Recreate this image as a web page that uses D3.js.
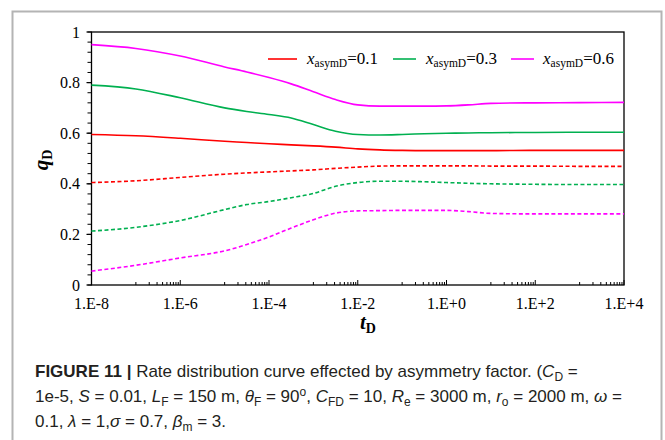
<!DOCTYPE html>
<html><head><meta charset="utf-8">
<script src="https://cdn.jsdelivr.net/npm/d3@7"></script>
<style>
html,body{margin:0;padding:0;background:#fff;}
svg{display:block;}
</style></head>
<body>
<svg id="chart" width="665" height="440"></svg>
<script>
// ---- data ----
const tD = [1e-8,1e-7,1e-6,1e-5,3.16e-5,1e-4,3.16e-4,1e-3,3.16e-3,1e-2,3.16e-2,1e-1,3.16e-1,1,3.16,10,100,1000,10000];
const xAsym = ["0.1","0.3","0.6"];
const colors = ["#ff0000","#00b050","#ff00ff"];
// solid (upper branch)
const solid01 = [0.595,0.590,0.580,0.568,0.563,0.558,0.554,0.550,0.545,0.538,0.534,0.532,0.531,0.531,0.531,0.531,0.532,0.532,0.532];
const solid03 = [0.790,0.775,0.740,0.700,0.686,0.674,0.660,0.634,0.608,0.595,0.593,0.595,0.598,0.600,0.601,0.602,0.603,0.604,0.604];
const solid06 = [0.950,0.935,0.905,0.862,0.842,0.820,0.795,0.764,0.733,0.712,0.707,0.707,0.707,0.708,0.712,0.718,0.720,0.721,0.722];
// dashed (lower branch)
const dash01 = [0.405,0.412,0.425,0.438,0.443,0.447,0.451,0.455,0.461,0.466,0.470,0.471,0.471,0.471,0.471,0.470,0.470,0.469,0.469];
const dash03 = [0.213,0.228,0.255,0.298,0.318,0.330,0.345,0.362,0.390,0.405,0.410,0.410,0.408,0.405,0.402,0.400,0.398,0.397,0.397];
const dash06 = [0.055,0.078,0.107,0.135,0.160,0.190,0.225,0.258,0.284,0.293,0.294,0.295,0.295,0.295,0.290,0.283,0.281,0.281,0.281];
const xTickValues = [1e-8,1e-6,1e-4,1e-2,1e0,1e2,1e4];
const xTickLabels = ["1.E-8","1.E-6","1.E-4","1.E-2","1.E+0","1.E+2","1.E+4"];
const yTickValues = [0,0.2,0.4,0.6,0.8,1];
const yTickLabels = ["0","0.2","0.4","0.6","0.8","1"];

// ---- layout ----
const svg = d3.select("#chart");
const L = 91.5, R = 624, T = 32, B = 285;
const x = d3.scaleLog().domain([1e-8,1e4]).range([L,R]);
const y = d3.scaleLinear().domain([0,1]).range([B,T]);
const serif = "'Liberation Serif','Times New Roman',serif";

// outer grey frame
svg.append("rect").attr("x",12.5).attr("y",11.5).attr("width",649).attr("height",440)
  .attr("fill","none").attr("stroke","#b4b4b4").attr("stroke-width",2);

// plot border
svg.append("rect").attr("x",L).attr("y",T).attr("width",R-L).attr("height",B-T)
  .attr("fill","none").attr("stroke","#000").attr("stroke-width",1.3);

// x axis ticks (inside)
const xMinor = [];
for (let e=-7;e<4;e+=2){ for(let k=1;k<=9;k++){ xMinor.push(k*Math.pow(10,e)); } }
svg.append("g").selectAll("line").data(xMinor).join("line")
  .attr("x1",d=>x(d)).attr("x2",d=>x(d)).attr("y1",B).attr("y2",B-3)
  .attr("stroke","#000").attr("stroke-width",1);
svg.append("g").selectAll("line").data(xTickValues).join("line")
  .attr("x1",d=>x(d)).attr("x2",d=>x(d)).attr("y1",B).attr("y2",B-5)
  .attr("stroke","#000").attr("stroke-width",1);
svg.append("g").selectAll("text").data(xTickValues).join("text")
  .attr("x",d=>x(d)).attr("y",309).attr("text-anchor","middle")
  .attr("font-family",serif).attr("font-size",16).attr("fill","#000")
  .text((d,i)=>xTickLabels[i]);

// y axis ticks (outside)
const yMinor = d3.range(0,1.0001,0.04);
svg.append("g").selectAll("line").data(yMinor).join("line")
  .attr("x1",L-4).attr("x2",L).attr("y1",d=>y(d)).attr("y2",d=>y(d))
  .attr("stroke","#000").attr("stroke-width",1);
svg.append("g").selectAll("line").data(yTickValues).join("line")
  .attr("x1",L-5).attr("x2",L).attr("y1",d=>y(d)).attr("y2",d=>y(d))
  .attr("stroke","#000").attr("stroke-width",1.2);
svg.append("g").selectAll("text").data(yTickValues).join("text")
  .attr("x",80).attr("y",d=>y(d)+5.5).attr("text-anchor","end")
  .attr("font-family",serif).attr("font-size",16).attr("fill","#000")
  .text((d,i)=>yTickLabels[i]);

// axis titles
const yt = svg.append("text").attr("transform","translate(48,160) rotate(-90)")
  .attr("text-anchor","middle").attr("font-family",serif).attr("font-weight","bold").attr("fill","#000");
yt.append("tspan").attr("font-style","italic").attr("font-size",21).text("q");
yt.append("tspan").attr("font-size",14).attr("dy",4).text("D");
const xt = svg.append("text").attr("x",368).attr("y",329)
  .attr("text-anchor","middle").attr("font-family",serif).attr("font-weight","bold").attr("fill","#000");
xt.append("tspan").attr("font-style","italic").attr("font-size",21).text("t");
xt.append("tspan").attr("font-size",14).attr("dy",4).text("D");

// lines
const line = d3.line().x((d,i)=>x(tD[i])).y(d=>y(d)).curve(d3.curveMonotoneX);
const series = [
  {v:solid01,c:0,dash:null},{v:solid03,c:1,dash:null},{v:solid06,c:2,dash:null},
  {v:dash01,c:0,dash:"4,2.5"},{v:dash03,c:1,dash:"4,2.5"},{v:dash06,c:2,dash:"4,2.5"}
];
svg.append("g").selectAll("path").data(series).join("path")
  .attr("d",d=>line(d.v)).attr("fill","none")
  .attr("stroke",d=>colors[d.c]).attr("stroke-width",1.6)
  .attr("stroke-dasharray",d=>d.dash);

// legend
const legX = [[268,297,307],[393,416,426],[511,534,543]];
const lg = svg.append("g");
xAsym.forEach((lab,i)=>{
  lg.append("line").attr("x1",legX[i][0]).attr("x2",legX[i][1]).attr("y1",59).attr("y2",59)
    .attr("stroke",colors[i]).attr("stroke-width",1.6);
  const t = lg.append("text").attr("x",legX[i][2]).attr("y",64)
    .attr("font-family",serif).attr("font-size",17).attr("fill","#000");
  t.append("tspan").attr("font-style","italic").text("x");
  t.append("tspan").attr("font-size",11.5).attr("dy",3).text("asymD");
  t.append("tspan").attr("dy",-3).text("="+lab);
});

// caption
const sans = "'Liberation Sans Narrow','Liberation Sans',Arial,sans-serif";
const cap = svg.append("g").attr("font-family",sans).attr("font-size",17).attr("fill","#231f20");
function addLine(yy, parts){
  const t = cap.append("text").attr("x",35).attr("y",yy);
  parts.forEach(p=>{
    const s = t.append("tspan").text(p.t);
    if(p.b) s.attr("font-weight","bold");
    if(p.i) s.attr("font-style","italic");
    if(p.sub){ s.attr("font-size",12).attr("dy",4); }
    if(p.up){ s.attr("dy",-4); }
    if(p.sup){ s.attr("font-size",12).attr("dy",-6); }
    if(p.down){ s.attr("dy",6); }
  });
}
addLine(377,[
  {t:"FIGURE 11 | ",b:true},
  {t:"Rate distribution curve effected by asymmetry factor. ("},
  {t:"C",i:true},{t:"D",sub:true},{t:" =",up:true}
]);
addLine(402,[
  {t:"1e-5, "},{t:"S",i:true},{t:" = 0.01, "},
  {t:"L",i:true},{t:"F",sub:true},{t:" = 150 m, ",up:true},
  {t:"θ",i:true},{t:"F",sub:true},{t:" = 90",up:true},{t:"o",sup:true},{t:", ",down:true},
  {t:"C",i:true},{t:"FD",sub:true},{t:" = 10, ",up:true},
  {t:"R",i:true},{t:"e",sub:true},{t:" = 3000 m, ",up:true},
  {t:"r",i:true},{t:"o",sub:true},{t:" = 2000 m, ",up:true},
  {t:"ω",i:true},{t:" ="}
]);
addLine(427,[
  {t:"0.1, "},{t:"λ",i:true},{t:" = 1,"},{t:"σ",i:true},{t:" = 0.7, "},
  {t:"β",i:true},{t:"m",sub:true},{t:" = 3.",up:true}
]);
</script>
</body></html>
